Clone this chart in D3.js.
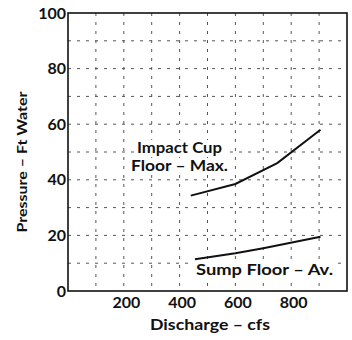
<!DOCTYPE html>
<html>
<head>
<meta charset="utf-8">
<script src="https://cdn.jsdelivr.net/npm/d3@7"></script>
<style>
  html, body { margin: 0; padding: 0; background: #fff; }
  svg { display: block; }
  text { font-family: Lato, "DejaVu Sans", sans-serif; font-weight: 700; fill: #111; }
</style>
</head>
<body>
<svg id="chart" width="352" height="340"></svg>
<script>
// ---- data ----
const impactX = [440, 600, 750, 905];
const impactY = [34.3, 38.5, 46, 58];
const sumpX = [455, 600, 700, 905];
const sumpY = [11.4, 13.6, 15.4, 19.5];
const xTickValues = [200, 400, 600, 800];
const yTickValues = [0, 20, 40, 60, 80, 100];
const xGridValues = [100, 200, 300, 400, 500, 600, 700, 800, 900];
const yGridValues = [10, 20, 30, 40, 50, 60, 70, 80, 90];
const xTitle = "Discharge \u2013 cfs";
const yTitle = "Pressure \u2013 Ft Water";
const impactLabel = ["Impact Cup", "Floor \u2013 Max."];
const sumpLabel = "Sump Floor \u2013 Av.";

// ---- layout ----
const mLeft = 68, mTop = 13, W = 279, H = 278;
const svg = d3.select("#chart");
const x = d3.scaleLinear().domain([0, 1000]).range([mLeft, mLeft + W]);
const y = d3.scaleLinear().domain([0, 100]).range([mTop + H, mTop]);

// grid
const grid = svg.append("g").attr("stroke", "#555").attr("stroke-width", 1)
  .attr("stroke-dasharray", "3,6").attr("fill", "none");
grid.selectAll("line.v").data(xGridValues).join("line").attr("class", "v")
  .attr("x1", d => x(d)).attr("x2", d => x(d)).attr("y1", mTop).attr("y2", mTop + H);
grid.selectAll("line.h").data(yGridValues).join("line").attr("class", "h")
  .attr("y1", d => y(d)).attr("y2", d => y(d)).attr("x1", mLeft).attr("x2", mLeft + W);

// labels with white backgrounds
function labelBlock(lines, cx, baselines, widths) {
  const g = svg.append("g");
  lines.forEach((t, i) => {
    g.append("rect").attr("x", cx - widths[i] / 2 - 2).attr("y", baselines[i] - 13)
      .attr("width", widths[i] + 4).attr("height", 17).attr("fill", "#fff");
  });
  lines.forEach((t, i) => {
    g.append("text").attr("x", cx).attr("y", baselines[i]).attr("text-anchor", "middle")
      .attr("font-size", 15).attr("textLength", widths[i]).attr("lengthAdjust", "spacingAndGlyphs")
      .text(t);
  });
}
labelBlock(impactLabel, 179.5, [153, 171], [85, 97]);
labelBlock([sumpLabel], 264.5, [275], [137]);

// frame
svg.append("rect").attr("x", mLeft).attr("y", mTop).attr("width", W).attr("height", H)
  .attr("fill", "none").attr("stroke", "#111").attr("stroke-width", 1.6);

// axes (labels only; frame drawn above)
const xAxis = svg.append("g").attr("transform", `translate(0,${mTop + H})`)
  .call(d3.axisBottom(x).tickValues(xTickValues).tickSize(0).tickPadding(6));
xAxis.select(".domain").remove();
xAxis.selectAll("text").attr("font-size", 16).attr("fill", "#111")
  .attr("font-family", "Lato, sans-serif").attr("font-weight", 700).attr("dx", 2);

const yAxis = svg.append("g").attr("transform", `translate(${mLeft},0)`)
  .call(d3.axisLeft(y).tickValues(yTickValues).tickSize(0).tickPadding(2));
yAxis.select(".domain").remove();
yAxis.selectAll("text").attr("font-size", 16).attr("fill", "#111")
  .attr("font-family", "Lato, sans-serif").attr("font-weight", 700);

// lines
const line = d3.line().x(d => x(d[0])).y(d => y(d[1]));
svg.append("path").datum(impactX.map((v, i) => [v, impactY[i]]))
  .attr("d", line).attr("fill", "none").attr("stroke", "#111").attr("stroke-width", 2);
svg.append("path").datum(sumpX.map((v, i) => [v, sumpY[i]]))
  .attr("d", line).attr("fill", "none").attr("stroke", "#111").attr("stroke-width", 2);

// titles
svg.append("text").attr("x", 210).attr("y", 330).attr("text-anchor", "middle")
  .attr("font-size", 15).attr("textLength", 120).attr("lengthAdjust", "spacingAndGlyphs").text(xTitle);
svg.append("text").attr("transform", "translate(27,162) rotate(-90)").attr("text-anchor", "middle")
  .attr("font-size", 14).attr("textLength", 141).attr("lengthAdjust", "spacingAndGlyphs").text(yTitle);
</script>
</body>
</html>
